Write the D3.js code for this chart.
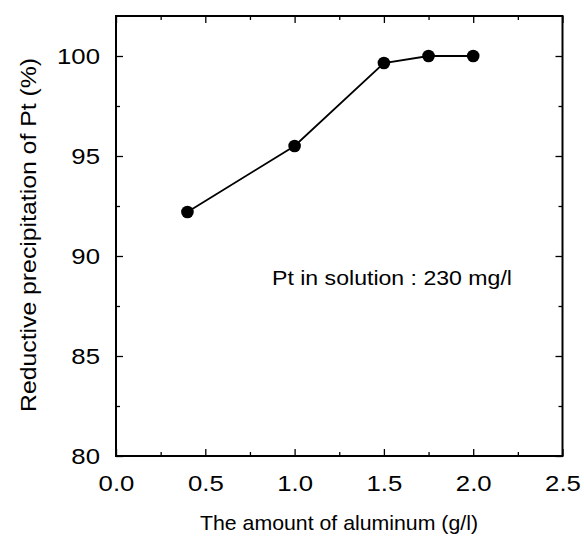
<!DOCTYPE html>
<html><head><meta charset="utf-8">
<script src="https://cdn.jsdelivr.net/npm/d3@7"></script>
<style>body{margin:0;background:#fff}svg text{font-family:"Liberation Sans",Arial,sans-serif;fill:#000}</style>
</head><body><svg id="c" width="584" height="537"></svg>
<script>
const xValues = [0.4, 1.0, 1.5, 1.75, 2.0];
const yValues = [92.2, 95.5, 99.65, 100.0, 100.0];
const xTicks = [0.0, 0.5, 1.0, 1.5, 2.0, 2.5];
const yTicks = [80, 85, 90, 95, 100];
const xMinor = [0.25, 0.75, 1.25, 1.75, 2.25];
const yMinor = [82.5, 87.5, 92.5, 97.5];
const annotation = "Pt in solution : 230 mg/l";
const xTitle = "The amount of aluminum (g/l)";
const yTitle = "Reductive precipitation of Pt (%)";

const L = 116, R = 562.5, T = 16, B = 456;
const svg = d3.select("#c");
const x = d3.scaleLinear().domain([0, 2.5]).range([L, R]);
const y = d3.scaleLinear().domain([80, 102]).range([B, T]);

function widen(sel, f) {
  sel.each(function () {
    const w = this.getComputedTextLength();
    d3.select(this).attr("textLength", w * f).attr("lengthAdjust", "spacingAndGlyphs");
  });
}

const fmtX = d3.format(".1f");
svg.append("g").attr("transform", `translate(0,${B})`)
  .call(d3.axisBottom(x).tickValues(xTicks).tickSizeInner(-7).tickSizeOuter(0).tickPadding(19).tickFormat(fmtX))
  .call(g => g.selectAll("text").attr("font-size", 22).attr("dy", "0.71em"));
svg.append("g").attr("transform", `translate(0,${B})`)
  .call(d3.axisBottom(x).tickValues(xMinor).tickSizeInner(-4).tickSizeOuter(0).tickFormat(""));
svg.append("g").attr("transform", `translate(0,${T})`)
  .call(d3.axisTop(x).tickValues(xTicks).tickSizeInner(-7).tickSizeOuter(0).tickFormat(""));
svg.append("g").attr("transform", `translate(0,${T})`)
  .call(d3.axisTop(x).tickValues(xMinor).tickSizeInner(-4).tickSizeOuter(0).tickFormat(""));
svg.append("g").attr("transform", `translate(${L},0)`)
  .call(d3.axisLeft(y).tickValues(yTicks).tickSizeInner(-7).tickSizeOuter(0).tickPadding(16))
  .call(g => g.selectAll("text").attr("font-size", 22));
svg.append("g").attr("transform", `translate(${L},0)`)
  .call(d3.axisLeft(y).tickValues(yMinor).tickSizeInner(-4).tickSizeOuter(0).tickFormat(""));
svg.append("g").attr("transform", `translate(${R},0)`)
  .call(d3.axisRight(y).tickValues(yTicks).tickSizeInner(-7).tickSizeOuter(0).tickFormat(""));
svg.append("g").attr("transform", `translate(${R},0)`)
  .call(d3.axisRight(y).tickValues(yMinor).tickSizeInner(-4).tickSizeOuter(0).tickFormat(""));
svg.selectAll(".domain").remove();
svg.selectAll(".tick line").attr("stroke", "#000").attr("stroke-width", 1.3);
widen(svg.selectAll(".tick text"), 1.17);

svg.append("rect").attr("x", L).attr("y", T).attr("width", R - L).attr("height", B - T)
  .attr("fill", "none").attr("stroke", "#000").attr("stroke-width", 2);

const data = xValues.map((v, i) => ({x: v, y: yValues[i]}));
svg.append("path").datum(data)
  .attr("d", d3.line().x(d => x(d.x)).y(d => y(d.y)))
  .attr("fill", "none").attr("stroke", "#000").attr("stroke-width", 1.8);
svg.selectAll("circle.pt").data(data).join("circle").attr("class", "pt")
  .attr("cx", d => x(d.x)).attr("cy", d => y(d.y)).attr("r", 6.3).attr("fill", "#000");

svg.append("text").attr("x", 272).attr("y", 285).attr("font-size", 21)
  .attr("textLength", 240).attr("lengthAdjust", "spacingAndGlyphs").text(annotation);
svg.append("text").attr("x", 339).attr("y", 530).attr("text-anchor", "middle")
  .attr("font-size", 21).attr("textLength", 278).attr("lengthAdjust", "spacingAndGlyphs").text(xTitle);
svg.append("text").attr("transform", `translate(36,235) rotate(-90)`)
  .attr("text-anchor", "middle").attr("font-size", 22)
  .attr("textLength", 354).attr("lengthAdjust", "spacingAndGlyphs").text(yTitle);
</script></body></html>
